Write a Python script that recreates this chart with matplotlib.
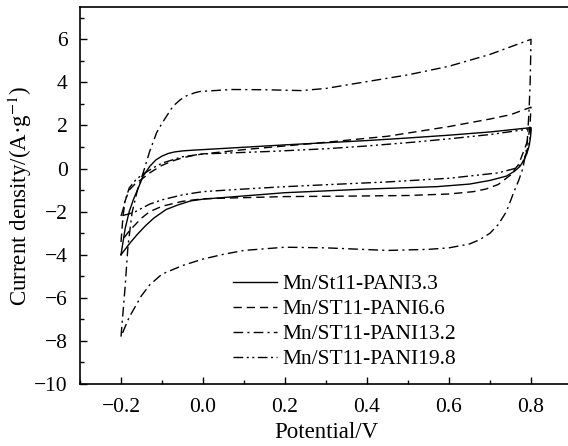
import numpy as np
import matplotlib
matplotlib.use("Agg")
import matplotlib.pyplot as plt
from matplotlib.ticker import MultipleLocator

plt.rcParams["font.family"] = ["Liberation Serif", "DejaVu Serif"]
plt.rcParams["mathtext.fontset"] = "stix"

labels = ["Mn/St11-PANI3.3", "Mn/ST11-PANI6.6", "Mn/ST11-PANI13.2", "Mn/ST11-PANI19.8"]

# anodic sweep (-0.2 -> 0.8 V)
v_up_33 = [-0.2, -0.195, -0.19, -0.18, -0.17, -0.16, -0.146, -0.13, -0.115, -0.1, -0.085, -0.07,
           -0.05, -0.02, 0.0, 0.1, 0.2, 0.3, 0.4, 0.5, 0.6, 0.7, 0.8]
i_up_33 = [-4.0, -3.4, -2.8, -2.0, -1.45, -1.0, -0.35, 0.1, 0.4, 0.58, 0.7, 0.77,
           0.82, 0.86, 0.88, 0.99, 1.1, 1.2, 1.3, 1.42, 1.55, 1.7, 1.9]
# cathodic sweep (0.8 -> -0.2 V)
v_dn_33 = [0.8, 0.799, 0.796, 0.79, 0.783, 0.773, 0.76, 0.74, 0.7, 0.65, 0.57, 0.4, 0.2, 0.1, 0.0,
           -0.03, -0.06, -0.09, -0.12, -0.14, -0.16, -0.18, -0.2]
i_dn_33 = [1.9, 1.5, 1.1, 0.7, 0.4, 0.1, -0.12, -0.35, -0.55, -0.72, -0.84, -0.95, -1.12, -1.27, -1.42,
           -1.5, -1.68, -1.9, -2.3, -2.65, -3.05, -3.5, -4.0]

v_up_66 = [-0.2, -0.195, -0.19, -0.18, -0.165, -0.15, -0.13, -0.1, -0.07, -0.05, -0.02, 0.0, 0.1,
           0.2, 0.3, 0.45, 0.6, 0.7, 0.75, 0.8]
i_up_66 = [-3.4, -2.2, -1.5, -1.0, -0.7, -0.5, -0.2, 0.15, 0.38, 0.5, 0.62, 0.68, 0.88,
           1.05, 1.22, 1.5, 1.95, 2.3, 2.5, 2.85]
v_dn_66 = [0.8, 0.797, 0.79, 0.78, 0.77, 0.75, 0.72, 0.69, 0.66, 0.6, 0.5, 0.35, 0.2, 0.0,
           -0.05, -0.1, -0.13, -0.15, -0.18, -0.2]
i_dn_66 = [2.85, 1.8, 1.2, 0.7, 0.2, -0.3, -0.74, -0.95, -1.07, -1.18, -1.25, -1.28, -1.3, -1.4,
           -1.52, -1.75, -2.0, -2.3, -2.9, -3.4]

v_up_132 = [-0.2, -0.19, -0.183, -0.173, -0.16, -0.146, -0.13, -0.113, -0.1, -0.09, -0.073, -0.055,
            -0.04, -0.02, -0.007, 0.07, 0.15, 0.24, 0.3, 0.35, 0.42, 0.5, 0.6, 0.7, 0.8]
i_up_132 = [-7.8, -5.5, -3.6, -2.05, -1.0, -0.2, 0.8, 1.67, 2.1, 2.4, 2.9, 3.2,
            3.38, 3.52, 3.58, 3.67, 3.66, 3.62, 3.72, 3.88, 4.1, 4.35, 4.75, 5.3, 6.0]
v_dn_132 = [0.8, 0.798, 0.795, 0.79, 0.78, 0.77, 0.76, 0.74, 0.72, 0.7, 0.675, 0.65, 0.6, 0.55,
            0.45, 0.3, 0.2, 0.1, 0.05, 0.0, -0.05, -0.1, -0.13, -0.15, -0.18, -0.2]
i_dn_132 = [6.0, 4.0, 2.6, 1.0, 0.0, -0.55, -1.0, -2.0, -2.6, -3.0, -3.3, -3.5, -3.68, -3.75,
            -3.8, -3.68, -3.65, -3.8, -3.98, -4.2, -4.5, -4.9, -5.4, -5.9, -6.9, -7.8]

v_up_198 = [-0.2, -0.195, -0.19, -0.18, -0.165, -0.15, -0.12, -0.1, -0.05, 0.0, 0.1, 0.17, 0.3, 0.4,
            0.51, 0.6, 0.7, 0.756, 0.8]
i_up_198 = [-2.2, -1.9, -1.5, -0.9, -0.55, -0.3, 0.05, 0.25, 0.55, 0.68, 0.75, 0.8, 0.92, 1.05,
            1.22, 1.38, 1.58, 1.73, 1.85]
v_dn_198 = [0.8, 0.797, 0.79, 0.78, 0.77, 0.76, 0.72, 0.6, 0.45, 0.3, 0.2, 0.1, 0.0, -0.05, -0.1,
            -0.13, -0.15, -0.165, -0.18, -0.2]
i_dn_198 = [1.85, 1.3, 0.8, 0.3, 0.1, 0.0, -0.2, -0.45, -0.62, -0.75, -0.84, -0.95, -1.07, -1.22,
            -1.45, -1.65, -1.85, -2.0, -2.1, -2.2]

curves = [
    (v_up_33 + v_dn_33, i_up_33 + i_dn_33, "-"),
    (v_up_66 + v_dn_66, i_up_66 + i_dn_66, (0, (6, 3.5))),
    (v_up_132 + v_dn_132, i_up_132 + i_dn_132, (0, (7, 3, 1.5, 3))),
    (v_up_198 + v_dn_198, i_up_198 + i_dn_198, (0, (7, 2.5, 1.5, 2.5, 1.5, 2.5))),
]

fig = plt.figure(figsize=(5.68, 4.46), dpi=100)
ax = fig.add_axes([80 / 568, 62 / 446, 492 / 568, 377 / 446])

for (v, i, ls), lab in zip(curves, labels):
    ax.plot(v, i, color="black", lw=1.0, linestyle=ls, label=lab)

ax.set_xlim(-0.3, -0.3 + 492 / 410)
ax.set_ylim(-10, 7.5)
ax.xaxis.set_major_locator(MultipleLocator(0.2))
ax.xaxis.set_minor_locator(MultipleLocator(0.1))
ax.yaxis.set_major_locator(MultipleLocator(2))
ax.yaxis.set_minor_locator(MultipleLocator(1))
ax.set_xticks([-0.2, 0.0, 0.2, 0.4, 0.6, 0.8])
ax.set_xticklabels(["\u22120.2", "0.0", "0.2", "0.4", "0.6", "0.8"])
ax.tick_params(which="both", direction="in", labelsize=15.5, top=False, right=False)
ax.tick_params(axis="x", which="major", pad=10)
ax.tick_params(axis="y", which="major", pad=9)
ax.tick_params(which="major", length=5, width=1)
ax.tick_params(which="minor", length=3, width=1)
ax.spines["right"].set_visible(False)
for s in ["left", "bottom", "top"]:
    ax.spines[s].set_linewidth(1.2)

ax.set_xlabel("Potential/V", fontsize=16.5, labelpad=4)
ax.set_ylabel("Current density/(A\u00b7g$^{-1}$)", fontsize=16.5, labelpad=0)

ax.legend(loc="lower left", bbox_to_anchor=(0.293, 0.016), frameon=False, fontsize=15.5,
          handlelength=2.05, handletextpad=0.28, labelspacing=0.23, borderaxespad=0)

fig.savefig("out.png", dpi=100)
